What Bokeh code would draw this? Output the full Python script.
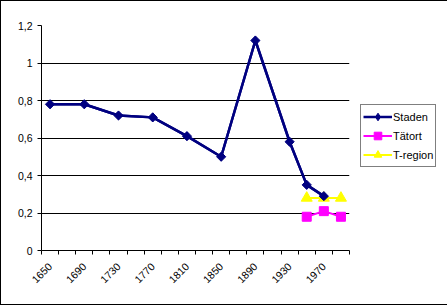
import math
from bokeh.plotting import figure
from bokeh.models import (Range1d, FixedTicker, CustomJSTickFormatter, Legend, LegendItem,
                          ColumnDataSource, InlineStyleSheet)
from bokeh.embed import file_html
from bokeh.resources import INLINE

# ---- data ----
years = [1650, 1670, 1690, 1710, 1730, 1750, 1770, 1790, 1810, 1830,
         1850, 1870, 1890, 1910, 1930, 1950, 1970, 1990]
staden = [0.78, None, 0.78, None, 0.72, None, 0.71, None, 0.61, None,
          0.50, None, 1.12, None, 0.58, 0.35, 0.29, None]
tatort = [None] * 15 + [0.18, 0.21, 0.18]
tregion = [None] * 15 + [0.28, 0.28, 0.28]
label_years = [1650, 1690, 1730, 1770, 1810, 1850, 1890, 1930, 1970]
y_ticks = [0, 0.2, 0.4, 0.6, 0.8, 1.0, 1.2]
series_names = ["Staden", "Tätort", "T-region"]


def pts(vals):
    xs = [x for x, v in zip(years, vals) if v is not None]
    ys = [v for v in vals if v is not None]
    return ColumnDataSource(dict(x=xs, y=ys))


FONT = "Liberation Sans"

p = figure(frame_width=308, frame_height=225, output_backend="svg", toolbar_location=None,
           x_range=Range1d(years[0] - 10, years[-1] + 10),
           y_range=Range1d(0, 1.2),
           min_border_left=40, min_border_right=97,
           min_border_top=24, min_border_bottom=54)
p.stylesheets = [InlineStyleSheet(css=":host { border: 1px solid black !important; }")]
p.outline_line_color = None
p.background_fill_color = "white"
p.border_fill_color = "white"

# grid
p.xgrid.visible = False
p.ygrid.grid_line_color = "black"
p.ygrid.grid_line_width = 1
p.ygrid.ticker = FixedTicker(ticks=y_ticks)

# y axis
p.yaxis.ticker = FixedTicker(ticks=y_ticks)
p.yaxis.formatter = CustomJSTickFormatter(
    code="var s = tick.toFixed(1).replace('.', ','); if (s.endsWith(',0')) s = s.slice(0, -2); return s;")
p.yaxis.axis_line_color = "black"
p.yaxis.major_tick_line_color = "black"
p.yaxis.major_tick_out = 4
p.yaxis.major_tick_in = 0
p.yaxis.minor_tick_line_color = None
p.yaxis.major_label_standoff = 5
p.yaxis.major_label_text_font = FONT
p.yaxis.major_label_text_font_size = "10.5px"
p.yaxis.major_label_text_color = "black"

# x axis
bounds = [y - 10 for y in years] + [years[-1] + 10]
p.xaxis.ticker = FixedTicker(ticks=label_years, minor_ticks=bounds)
p.xaxis.axis_line_color = "black"
p.xaxis.major_tick_line_color = None
p.xaxis.minor_tick_line_color = "black"
p.xaxis.minor_tick_out = 4
p.xaxis.minor_tick_in = 0
p.xaxis.major_label_orientation = math.pi / 4
p.xaxis.major_label_standoff = 8
p.xaxis.major_label_text_font = FONT
p.xaxis.major_label_text_font_size = "10.5px"
p.xaxis.major_label_text_color = "black"

src_tr = pts(tregion)
src_ta = pts(tatort)
src_st = pts(staden)

# legend glyphs (smaller markers, as in the reference legend); drawn underneath
g3l = p.line("x", "y", source=src_tr, line_color="#FFFF00", line_width=2)
g3m = p.scatter("x", "y", source=src_tr, marker="triangle", size=7,
                fill_color="#FFFF00", line_color="#FFFF00")
g2l = p.line("x", "y", source=src_ta, line_color="#FF00FF", line_width=2)
g2m = p.scatter("x", "y", source=src_ta, marker="square", size=5,
                fill_color="#FF00FF", line_color="#FF00FF")
g1l = p.line("x", "y", source=src_st, line_color="#000080", line_width=2.5)
g1m = p.scatter("x", "y", source=src_st, marker="diamond", size=8,
                fill_color="#000080", line_color="#000080")

# series as drawn in the plot (Staden on top)
p.scatter("x", "y", source=src_tr, marker="triangle", size=11,
          fill_color="#FFFF00", line_color="#FFFF00")
p.scatter("x", "y", source=src_ta, marker="square", size=9,
          fill_color="#FF00FF", line_color="#FF00FF")
p.line("x", "y", source=src_st, line_color="#000080", line_width=2.5)
p.scatter("x", "y", source=src_st, marker="square", size=6.5, angle=math.pi / 4,
          fill_color="#000080", line_color="#000080")

legend = Legend(items=[LegendItem(label=series_names[0], renderers=[g1l, g1m]),
                       LegendItem(label=series_names[1], renderers=[g2l, g2m]),
                       LegendItem(label=series_names[2], renderers=[g3l, g3m])],
                location=(11, 83))
legend.border_line_color = "black"
legend.border_line_width = 1
legend.background_fill_color = "white"
legend.background_fill_alpha = 1
legend.padding = 2
legend.spacing = 0
legend.margin = 0
legend.glyph_width = 29
legend.glyph_height = 19
legend.label_height = 19
legend.label_standoff = 1
legend.label_text_font = FONT
legend.label_text_font_size = "11px"
legend.label_text_color = "black"
p.add_layout(legend, "right")

open("out.html", "w").write(file_html(p, INLINE))
